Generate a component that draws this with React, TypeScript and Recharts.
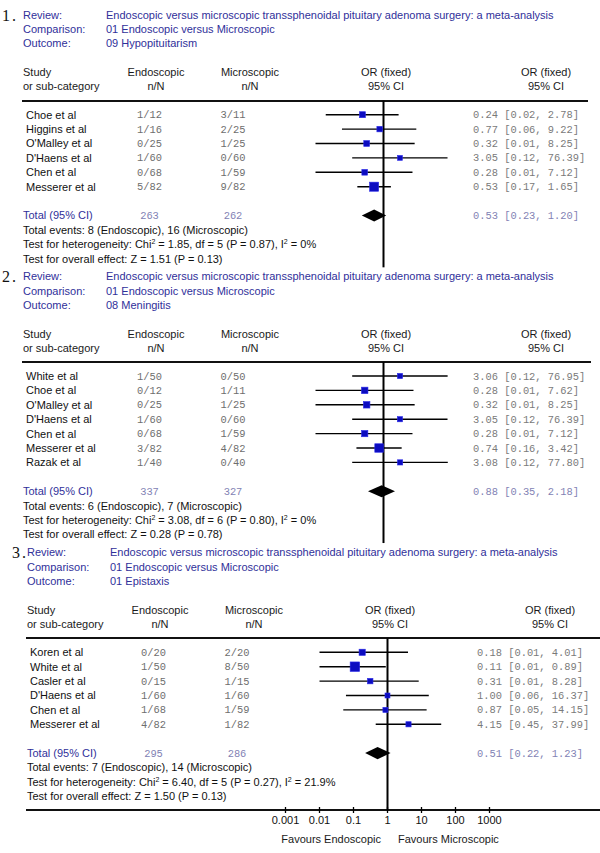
import React from 'react';
import { ComposedChart, Scatter, ErrorBar, XAxis, YAxis, ReferenceLine, ReferenceArea } from 'recharts';

const REVIEW = 'Endoscopic versus microscopic transsphenoidal pituitary adenoma surgery: a meta-analysis';
const COMPARISON = '01 Endoscopic versus Microscopic';
const AXIS_TICKS = [0.001, 0.01, 0.1, 1, 10, 100, 1000];

// 1. Hypopituitarism
const hypoStudies = ['Choe et al', 'Higgins et al', "O'Malley et al", "D'Haens et al", 'Chen et al', 'Messerer et al'];
const hypoEndo = ['1/12', '1/16', '0/25', '1/60', '0/68', '5/82'];
const hypoMicro = ['3/11', '2/25', '1/25', '0/60', '1/59', '9/82'];
const hypoOr = [0.24, 0.77, 0.32, 3.05, 0.28, 0.53];
const hypoLo = [0.02, 0.06, 0.01, 0.12, 0.01, 0.17];
const hypoHi = [2.78, 9.22, 8.25, 76.39, 7.12, 1.65];
const hypoWeight = [15, 10, 13, 4, 12, 46];
const hypoTotals = [263, 262];
const hypoPooled = [0.53, 0.23, 1.2];
const hypoStats = ['8 (Endoscopic), 16 (Microscopic)', '1.85', '5', '0.87', '0%', '1.51', '0.13'];

// 2. Meningitis
const meningStudies = ['White et al', 'Choe et al', "O'Malley et al", "D'Haens et al", 'Chen et al', 'Messerer et al', 'Razak et al'];
const meningEndo = ['1/50', '0/12', '0/25', '1/60', '0/68', '3/82', '1/40'];
const meningMicro = ['0/50', '1/11', '1/25', '0/60', '1/59', '4/82', '0/40'];
const meningOr = [3.06, 0.28, 0.32, 3.05, 0.28, 0.74, 3.08];
const meningLo = [0.12, 0.01, 0.01, 0.12, 0.01, 0.16, 0.12];
const meningHi = [76.95, 7.62, 8.25, 76.39, 7.12, 3.42, 77.8];
const meningWeight = [7, 20, 20, 7, 18, 40, 7];
const meningTotals = [337, 327];
const meningPooled = [0.88, 0.35, 2.18];
const meningStats = ['6 (Endoscopic), 7 (Microscopic)', '3.08', '6', '0.80', '0%', '0.28', '0.78'];

// 3. Epistaxis
const epiStudies = ['Koren et al', 'White et al', 'Casler et al', "D'Haens et al", 'Chen et al', 'Messerer et al'];
const epiEndo = ['0/20', '1/50', '0/15', '1/60', '1/68', '4/82'];
const epiMicro = ['2/20', '8/50', '1/15', '1/60', '1/59', '1/82'];
const epiOr = [0.18, 0.11, 0.31, 1.0, 0.87, 4.15];
const epiLo = [0.01, 0.01, 0.01, 0.06, 0.05, 0.45];
const epiHi = [4.01, 0.89, 8.28, 16.37, 14.15, 37.99];
const epiWeight = [17, 50, 10, 5, 6, 7];
const epiTotals = [295, 286];
const epiPooled = [0.51, 0.22, 1.23];
const epiStats = ['7 (Endoscopic), 14 (Microscopic)', '6.40', '5', '0.27', '21.9%', '1.50', '0.13'];

const SANS = '"Liberation Sans", Arial, sans-serif';
const MONO = '"Liberation Mono", "Courier New", monospace';
const BLUE = '#30309a';
const ROW = 14.4;
const FIRST = 14;

const fmtCi = (o: number, l: number, h: number) => `${o.toFixed(2)} [${l.toFixed(2)}, ${h.toFixed(2)}]`;

function Txt({ x, y, anchor = 'start', color = '#1a1a1a', font = SANS, size = 11, children }: any) {
  const mid = anchor === 'middle';
  const end = anchor === 'end';
  return (
    <div
      style={{
        position: 'absolute',
        left: mid ? x - 100 : end ? x - 200 : x,
        width: mid || end ? 200 : undefined,
        textAlign: mid ? 'center' : end ? 'right' : 'left',
        top: y - 7,
        height: 14,
        lineHeight: '14px',
        whiteSpace: 'nowrap',
        fontFamily: font,
        fontSize: size,
        color,
      }}
    >
      {children}
    </div>
  );
}

function Panel(props: any) {
  const { num, numX, outcome, studies, endo, micro, or, lo, hi, weight, totals, pooled, stats, ruleY, ruleRight, dx, showAxis } = props;
  const n = studies.length;
  const totalIdx = n + 1;
  const lastIdx = n + 4;
  const yMin = -FIRST / ROW;
  const yMax = lastIdx + (showAxis ? 0.95 : 0.6);
  const plotH = (yMax - yMin) * ROW;
  const axisH = showAxis ? 43 : 0;
  const bottom = 853 - ruleY - plotH - axisH;
  const plotLeft = 281.5 + dx;
  const plotRight = 485.5 + dx;

  const points = studies.map((s: string, i: number) => ({
    x: or[i],
    y: i,
    err: [or[i] - lo[i], hi[i] - or[i]],
    w: weight[i],
  }));
  // one invisible anchor per text row, so the table text follows the y scale
  const textRows = [...studies.map((_: string, i: number) => i), totalIdx, n + 2, n + 3, n + 4].map((i) => ({ x: 1, y: i }));

  const renderRow = (p: any) => {
    const v = p.payload.y;
    const y = p.cy;
    const sans = { fontFamily: SANS, fontSize: 11, dy: '0.36em' };
    const mono = { fontFamily: MONO, fontSize: 10.4, dy: '0.34em' };
    if (v < n) {
      return (
        <g>
          <text x={26 + dx} y={y} fill="#111" {...sans}>{studies[v]}</text>
          <text x={149.5 + dx} y={y} fill="#6e6e6e" textAnchor="middle" {...mono}>{endo[v]}</text>
          <text x={233 + dx} y={y} fill="#6e6e6e" textAnchor="middle" {...mono}>{micro[v]}</text>
          <text x={473 + dx} y={y} fill="#7a7a7a" {...mono}>{fmtCi(or[v], lo[v], hi[v])}</text>
        </g>
      );
    }
    if (v === totalIdx) {
      return (
        <g>
          <text x={23 + dx} y={y} fill={BLUE} {...sans}>Total (95% CI)</text>
          <text x={149.5 + dx} y={y} fill="#8282b4" textAnchor="middle" {...mono}>{totals[0]}</text>
          <text x={233 + dx} y={y} fill="#8282b4" textAnchor="middle" {...mono}>{totals[1]}</text>
          <text x={473 + dx} y={y} fill="#8282b4" {...mono}>{fmtCi(pooled[0], pooled[1], pooled[2])}</text>
        </g>
      );
    }
    if (v === n + 2) {
      return <text x={23 + dx} y={y} fill="#111" {...sans}>{`Total events: ${stats[0]}`}</text>;
    }
    if (v === n + 3) {
      return (
        <text x={23 + dx} y={y} fill="#111" {...sans}>
          Test for heterogeneity: Chi
          <tspan fontSize={7} dy={-4}>2</tspan>
          <tspan dy={4}>{` = ${stats[1]}, df = ${stats[2]} (P = ${stats[3]}), I`}</tspan>
          <tspan fontSize={7} dy={-4}>2</tspan>
          <tspan dy={4}>{` = ${stats[4]}`}</tspan>
        </text>
      );
    }
    return <text x={23 + dx} y={y} fill="#111" {...sans}>{`Test for overall effect: Z = ${stats[5]} (P = ${stats[6]})`}</text>;
  };

  const renderSquare = (p: any) => {
    const s = 4.5 + p.payload.w * 0.1;
    return <rect x={p.cx - s / 2} y={p.cy - s / 2} width={s} height={s} fill="#0c0cc0" stroke="#2b2bea" strokeWidth={0.6} />;
  };

  const renderDiamond = (p: any) => {
    const t = (Math.log(pooled[0]) - Math.log(pooled[1])) / (Math.log(pooled[2]) - Math.log(pooled[1]));
    const mx = p.x + p.width * t;
    const my = p.y + p.height / 2;
    return (
      <polygon
        points={`${p.x},${my} ${mx},${p.y} ${p.x + p.width},${my} ${mx},${p.y + p.height}`}
        fill="#000"
      />
    );
  };

  const renderAxisTick = (p: any) => (
    <g>
      <line x1={p.x} x2={p.x} y1={p.y - 3} y2={p.y + 3} stroke="#000" strokeWidth={1.3} />
      <text x={p.x} y={p.y + 10} textAnchor="middle" dy="0.36em" fontFamily={SANS} fontSize={11} fill="#111">
        {String(p.payload.value)}
      </text>
    </g>
  );

  const top = ruleY;
  return (
    <>
      <Txt x={numX} y={top - 85} font='"Liberation Serif", "Times New Roman", serif' size={16} color="#111">
        <span style={{ letterSpacing: 2 }}>{num}.</span>
      </Txt>
      <Txt x={23 + dx} y={top - 86} color={BLUE}>Review:</Txt>
      <Txt x={106 + dx} y={top - 86} color={BLUE}>{REVIEW}</Txt>
      <Txt x={23 + dx} y={top - 71.5} color={BLUE}>Comparison:</Txt>
      <Txt x={106 + dx} y={top - 71.5} color={BLUE}>{COMPARISON}</Txt>
      <Txt x={23 + dx} y={top - 57.5} color={BLUE}>Outcome:</Txt>
      <Txt x={106 + dx} y={top - 57.5} color={BLUE}>{outcome}</Txt>

      <Txt x={23 + dx} y={top - 28.5}>Study</Txt>
      <Txt x={23 + dx} y={top - 14.5}>or sub-category</Txt>
      <Txt x={156 + dx} y={top - 28.5} anchor="middle">Endoscopic</Txt>
      <Txt x={156 + dx} y={top - 14.5} anchor="middle">n/N</Txt>
      <Txt x={250 + dx} y={top - 28.5} anchor="middle">Microscopic</Txt>
      <Txt x={250 + dx} y={top - 14.5} anchor="middle">n/N</Txt>
      <Txt x={386 + dx} y={top - 28.5} anchor="middle">OR (fixed)</Txt>
      <Txt x={386 + dx} y={top - 14.5} anchor="middle">95% CI</Txt>
      <Txt x={546 + dx} y={top - 28.5} anchor="middle">OR (fixed)</Txt>
      <Txt x={546 + dx} y={top - 14.5} anchor="middle">95% CI</Txt>
      <div style={{ position: 'absolute', left: 22 + dx, width: ruleRight - 22 - dx, top: ruleY - 1, height: 2, background: '#111' }} />

      {showAxis && (
        <>
          <div style={{ position: 'absolute', left: 22 + dx, width: 600 - 22 - dx, top: ruleY + plotH - 1, height: 2, background: '#111' }} />
          <Txt x={381} y={839} anchor="end">Favours Endoscopic</Txt>
          <Txt x={398} y={839}>Favours Microscopic</Txt>
        </>
      )}

      <div style={{ position: 'absolute', left: 0, top: 0 }}>
        <ComposedChart
          width={600}
          height={853}
          margin={{ top: ruleY, bottom, left: plotLeft, right: 600 - plotRight }}
        >
          <XAxis
            dataKey="x"
            type="number"
            scale="log"
            domain={[0.001, 1000]}
            ticks={AXIS_TICKS}
            hide={!showAxis}
            height={axisH || 30}
            axisLine={false}
            tickLine={false}
            tickSize={0}
            tickMargin={0}
            interval={0}
            tick={renderAxisTick}
          />
          <YAxis dataKey="y" type="number" domain={[yMin, yMax]} reversed hide />
          <ReferenceLine x={1} stroke="#000" strokeWidth={2} />
          <ReferenceArea
            x1={pooled[1]}
            x2={pooled[2]}
            y1={totalIdx - 0.42}
            y2={totalIdx + 0.42}
            shape={renderDiamond}
          />
          <Scatter data={points} isAnimationActive={false} shape={renderSquare}>
            <ErrorBar dataKey="err" direction="x" width={0} stroke="#000" strokeWidth={1.4} />
          </Scatter>
          <Scatter data={textRows} isAnimationActive={false} shape={renderRow} />
        </ComposedChart>
      </div>
    </>
  );
}

export default function App() {
  return (
    <div style={{ position: 'absolute', left: 0, top: 0, width: 600, height: 853, background: '#fff', overflow: 'hidden' }}>
      <Panel
        num="1" numX={2} outcome="09 Hypopituitarism"
        studies={hypoStudies} endo={hypoEndo} micro={hypoMicro}
        or={hypoOr} lo={hypoLo} hi={hypoHi} weight={hypoWeight}
        totals={hypoTotals} pooled={hypoPooled} stats={hypoStats}
        ruleY={100.7} ruleRight={588} dx={0} showAxis={false}
      />
      <Panel
        num="2" numX={2} outcome="08 Meningitis"
        studies={meningStudies} endo={meningEndo} micro={meningMicro}
        or={meningOr} lo={meningLo} hi={meningHi} weight={meningWeight}
        totals={meningTotals} pooled={meningPooled} stats={meningStats}
        ruleY={362} ruleRight={591} dx={0} showAxis={false}
      />
      <Panel
        num="3" numX={12} outcome="01 Epistaxis"
        studies={epiStudies} endo={epiEndo} micro={epiMicro}
        or={epiOr} lo={epiLo} hi={epiHi} weight={epiWeight}
        totals={epiTotals} pooled={epiPooled} stats={epiStats}
        ruleY={638.3} ruleRight={600} dx={4} showAxis={true}
      />
    </div>
  );
}
